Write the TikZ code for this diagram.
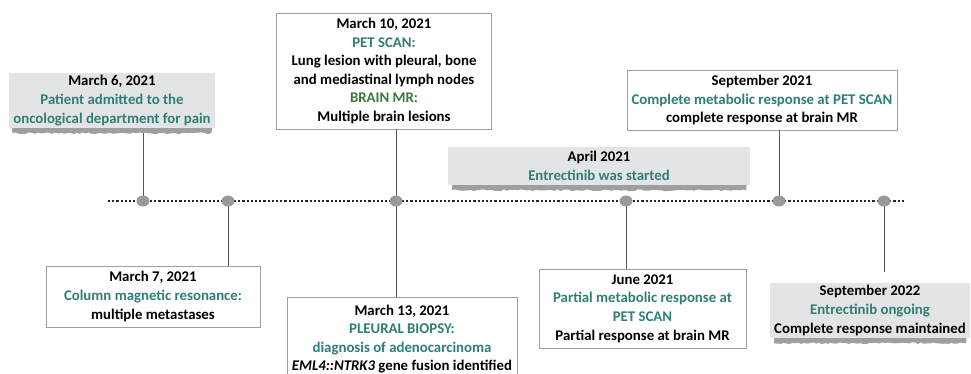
\documentclass[tikz,border=0pt]{standalone}
\usepackage{fontspec}
\setmainfont{Carlito}[BoldFont={Carlito Bold}, BoldItalicFont={Carlito Bold Italic}]
\usetikzlibrary{calc, backgrounds, decorations.pathmorphing}
\definecolor{teal}{HTML}{2F7F76}
\definecolor{mrgreen}{HTML}{3B7A3A}
\definecolor{boxgray}{HTML}{E3E4E5}
\definecolor{dotgray}{HTML}{9A9A9A}
\definecolor{linegray}{HTML}{555555}
\tikzset{
	every node/.style={font=\bfseries\fontsize{14.8}{18.6}\selectfont, align=center, inner sep=0pt},
	% 1. White boxes with a grey frame
	event/.style={draw=gray!75, fill=white, line width=0.8pt},
	% 2. Grey paper strips (the torn shadow is added below them)
	strip/.style={fill=boxgray},
	% 3. Connectors and timeline
	stem/.style={draw=linegray, line width=1pt},
	timeline/.style={draw=black!85, line width=2.2pt, dash pattern=on 2.2pt off 2pt},
}
\newcommand{\tornshadow}[1]{%
	\fill[gray!75, decorate, decoration={random steps, segment length=3pt, amplitude=0.9pt}]
		($(#1.south west)+(4,-2)$) -- ($(#1.south east)+(-4,-2)$)
		-- ($(#1.south east)+(-4,5)$) -- ($(#1.south west)+(4,5)$) -- cycle;
}
\begin{document}
\begin{tikzpicture}[x=1pt, y=-1pt]
		\useasboundingbox (0,0) rectangle (971,374);
		
		% Timeline
		\coordinate (start) at (108,201);
		\coordinate (end) at (905,201);
		\draw[timeline] (start) -- (end);
		
		\coordinate (d1) at (143,201);
		\coordinate (d2) at (228,201);
		\coordinate (d3) at (396,201);
		\coordinate (d4) at (626,201);
		\coordinate (d5) at (779,201);
		\coordinate (d6) at (884,201);
		
		% Events above the line
		\node[strip, minimum width=206, minimum height=55] (mar6) at (112,100.5)
			{March 6, 2021\\ \color{teal}Patient admitted to the\\ \color{teal}oncological department for pain};
		
		\node[event, minimum width=215, minimum height=116] (mar10) at (384,71)
			{March 10, 2021\\ \color{teal}PET SCAN:\\ Lung lesion with pleural, bone\\ and mediastinal lymph nodes\\ \color{mrgreen}BRAIN MR:\\ Multiple brain lesions};
		
		\node[strip, minimum width=302, minimum height=38] (apr) at (599,166)
			{April 2021\\ \color{teal}Entrectinib was started};
		
		\node[event, minimum width=270, minimum height=60] (sep21) at (762,100)
			{September 2021\\ \color{teal}Complete metabolic response at PET SCAN\\ complete response at brain MR};
		
		% Events below the line
		\node[event, minimum width=214, minimum height=61] (mar7) at (153,296.5)
			{March 7, 2021\\ \color{teal}Column magnetic resonance:\\ multiple metastases};
		
		\node[event, minimum width=230, minimum height=84] (mar13) at (402,339)
			{March 13, 2021\\ \color{teal}PLEURAL BIOPSY:\\ \color{teal}diagnosis of adenocarcinoma\\ \textit{EML4::NTRK3} gene fusion identified};
		
		\node[event, minimum width=207, minimum height=79] (jun) at (642.5,308.5)
			{June 2021\\ \color{teal}Partial metabolic response at\\ \color{teal}PET SCAN\\ Partial response at brain MR};
		
		\node[strip, minimum width=200, minimum height=55] (sep22) at (870,310.5)
			{September 2022\\ \color{teal}Entrectinib ongoing\\ Complete response maintained};
		
		\begin{scope}[on background layer]
			\tornshadow{mar6}
			\tornshadow{apr}
			\tornshadow{sep22}
		\end{scope}
		
		% Stems
		\draw[stem] ($(d1 |- mar6.south)+(0,5)$) coordinate (s1) -- (d1);
		\draw[stem] (d2) -- (d2 |- mar7.north);
		\draw[stem] (d3 |- mar10.south) -- (d3);
		\draw[stem] (d3) -- (d3 |- mar13.north);
		\draw[stem] (d4) -- (d4 |- jun.north);
		\draw[stem] (d5 |- sep21.south) -- (d5);
		\draw[stem] (d6) -- ($(d6 |- sep22.north)+(0,-11)$) coordinate (s6);
		
		\foreach \d in {d1, d2, d3, d4, d5, d6}{\fill[dotgray] (\d) ellipse (6.5 and 5.5);}
	\end{tikzpicture}
\end{document}
